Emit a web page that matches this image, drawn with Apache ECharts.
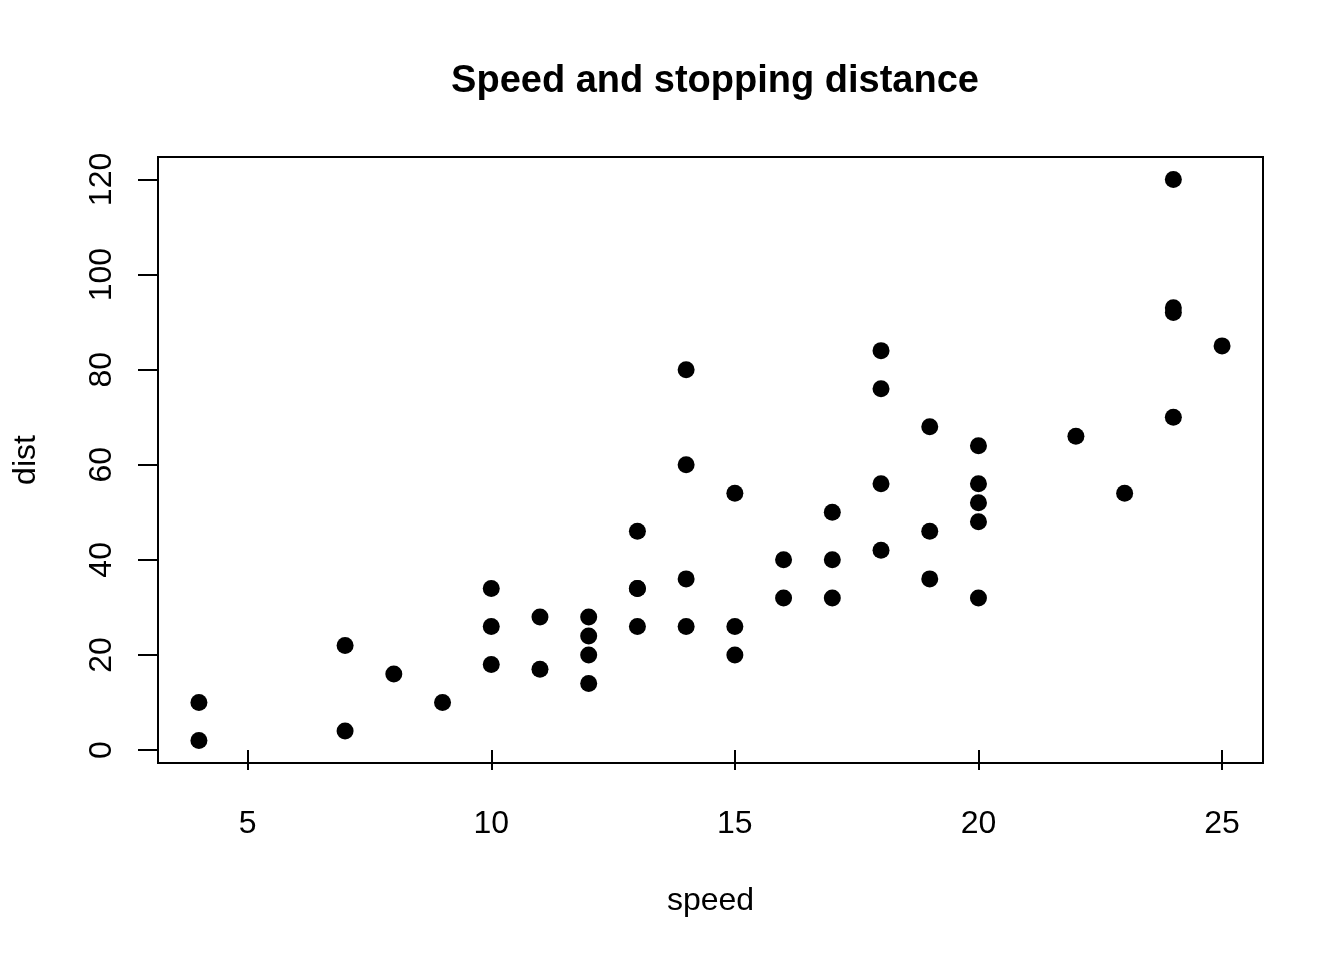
<!DOCTYPE html>
<html>
<head>
<meta charset="utf-8">
<script src="https://cdn.jsdelivr.net/npm/echarts@6/dist/echarts.min.js"></script>
<style>html,body{margin:0;padding:0;background:#fff}#c{width:1344px;height:960px}</style>
</head>
<body>
<div id="c"></div>
<script>
const speed = [4,4,7,7,8,9,10,10,10,11,11,12,12,12,12,13,13,13,13,14,14,14,14,15,15,15,16,16,17,17,17,18,18,18,18,19,19,19,20,20,20,20,20,22,23,24,24,24,24,25];
const dist = [2,10,4,22,16,10,18,26,34,17,28,14,20,24,28,26,34,34,46,26,36,60,80,20,26,54,32,40,32,40,50,42,56,76,84,36,46,68,32,48,52,56,64,66,54,70,92,93,120,85];
const xTicks = [5,10,15,20,25];
const yTicks = [0,20,40,60,80,100,120];
const FONT = 'Liberation Sans, Arial, Helvetica, sans-serif';

const chart = echarts.init(document.getElementById('c'), null, {renderer: 'canvas'});
chart.setOption({
  backgroundColor: '#fff',
  animation: false,
  title: {
    text: 'Speed and stopping distance',
    left: 710,
    textAlign: 'center',
    top: 58,
    textStyle: {fontFamily: FONT, fontSize: 38, fontWeight: 'bold', color: '#000'}
  },
  grid: {left: 158, right: 81, top: 157, bottom: 197, outerBoundsMode: 'none', containLabel: false, show: true, borderColor: '#000', borderWidth: 2, backgroundColor: 'transparent'},
  xAxis: {
    type: 'value', min: 3.16, max: 25.84,
    name: 'speed', nameLocation: 'middle', nameGap: 122,
    nameTextStyle: {fontFamily: FONT, fontSize: 32, color: '#000'},
    axisLine: {show: false},
    axisTick: {show: true, customValues: xTicks, length: 20, lineStyle: {color: '#000', width: 2}},
    axisLabel: {customValues: xTicks, margin: 45, fontFamily: FONT, fontSize: 32, color: '#000'},
    splitLine: {show: false}
  },
  yAxis: {
    type: 'value', min: -2.72, max: 124.72,
    name: 'dist', nameLocation: 'middle', nameGap: 116, nameRotate: 90,
    nameTextStyle: {fontFamily: FONT, fontSize: 32, color: '#000'},
    axisLine: {show: false},
    axisTick: {show: true, customValues: yTicks, length: 20, lineStyle: {color: '#000', width: 2}},
    axisLabel: {customValues: yTicks, rotate: 90, margin: 40, fontFamily: FONT, fontSize: 32, color: '#000'},
    splitLine: {show: false}
  },
  series: [{
    type: 'scatter',
    symbol: 'circle',
    symbolSize: 17,
    itemStyle: {color: '#000', opacity: 1},
    data: speed.map((s, i) => [s, dist[i]])
  }]
});
</script>
</body>
</html>
